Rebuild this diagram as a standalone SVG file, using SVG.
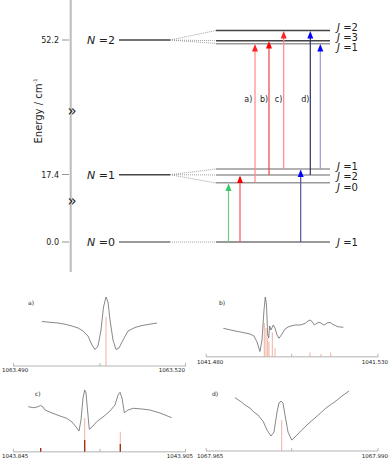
<svg xmlns="http://www.w3.org/2000/svg" width="390" height="459" viewBox="0 0 390 459">
<style>
text{font-family:"DejaVu Sans",sans-serif;fill:#222}
.tick{font-size:8px}
.lab{font-size:11px}
.jl{font-size:10px}
.it{font-style:italic}
.lvD{stroke:#444;stroke-width:1.5;fill:none}
.lvG{stroke:#999;stroke-width:1.5;fill:none}
.dot{stroke:#888;stroke-width:0.8;stroke-dasharray:1,1;fill:none}
.shaft{stroke-width:1.2;fill:none}
.spec{stroke:#555;stroke-width:0.7;fill:none;stroke-linejoin:round}
.ax{stroke:#ccc;stroke-width:1.5}
.axt{stroke:#888;stroke-width:0.6}
.stk{stroke:#e8a088;stroke-width:0.8}
.stkD{stroke:#a83010;stroke-width:1.4}
.num{font-size:5.5px}
.pl{font-size:6px}
.al{font-size:8px}
.brk{font-size:15px}
</style>

<g id="energy-axis">
  <line x1="70.7" y1="0" x2="70.7" y2="272" stroke="#bbb" stroke-width="2"/>
  <line x1="62" y1="40" x2="69" y2="40" stroke="#666" stroke-width="0.7"/>
  <line x1="62" y1="174.5" x2="69" y2="174.5" stroke="#666" stroke-width="0.7"/>
  <line x1="62" y1="242" x2="69" y2="242" stroke="#666" stroke-width="0.7"/>
  <text class="tick" x="59" y="43" text-anchor="end">52.2</text>
  <text class="tick" x="59" y="177.5" text-anchor="end">17.4</text>
  <text class="tick" x="59" y="245" text-anchor="end">0.0</text>
  <text class="brk" x="72" y="115.5" text-anchor="middle">»</text>
  <text class="brk" x="72" y="205.5" text-anchor="middle">»</text>
  <text transform="translate(42,111) rotate(-90)" font-size="10" text-anchor="middle">Energy / cm<tspan font-size="5" dy="-5">-1</tspan></text>
</g>

<g id="level-N2">
  <text class="lab" x="87" y="44"><tspan class="it">N</tspan> =2</text>
  <line class="lvD" x1="119" y1="40" x2="170" y2="40"/>
  <path class="dot" d="M170,40 L216,30.5 M170,40 L216,40.7 M170,40 L216,43.5"/>
  <line class="lvD" x1="216" y1="30.5" x2="330" y2="30.5"/>
  <line class="lvD" x1="216" y1="40.7" x2="330" y2="40.7"/>
  <line class="lvG" x1="216" y1="43.7" x2="330" y2="43.7"/>
  <text class="jl" x="337" y="30.5"><tspan class="it">J</tspan> =2</text>
  <text class="jl" x="337" y="40.5"><tspan class="it">J</tspan> =3</text>
  <text class="jl" x="337" y="50.5"><tspan class="it">J</tspan> =1</text>
</g>

<g id="level-N1">
  <text class="lab" x="87" y="178.5"><tspan class="it">N</tspan> =1</text>
  <line class="lvD" x1="119" y1="174.7" x2="170" y2="174.7"/>
  <path class="dot" d="M170,174.7 L216,169 M170,174.7 L216,175 M170,174.7 L216,183"/>
  <line class="lvG" x1="216" y1="169" x2="330" y2="169"/>
  <line class="lvG" x1="216" y1="175" x2="330" y2="175"/>
  <line class="lvG" x1="216" y1="182.8" x2="330" y2="182.8"/>
  <text class="jl" x="337" y="169.5"><tspan class="it">J</tspan> =1</text>
  <text class="jl" x="337" y="179.5"><tspan class="it">J</tspan> =2</text>
  <text class="jl" x="337" y="190.5"><tspan class="it">J</tspan> =0</text>
</g>

<g id="level-N0">
  <text class="lab" x="87" y="246"><tspan class="it">N</tspan> =0</text>
  <line x1="119" y1="242" x2="170" y2="242" stroke="#777" stroke-width="1.5"/>
  <path class="dot" d="M170,242 L216,242"/>
  <line x1="216" y1="242" x2="330" y2="242" stroke="#777" stroke-width="1.5"/>
  <text class="jl" x="337" y="245.5"><tspan class="it">J</tspan> =1</text>
</g>

<g id="connectors">
  <line class="shaft" x1="228.5" y1="242" x2="228.5" y2="189" stroke="#6c8"/>
  <polygon points="228.5,183.5 225.5,191 231.5,191" fill="#3c6"/>
  <line class="shaft" x1="240" y1="242" x2="240" y2="181" stroke="#f55"/>
  <polygon points="240,175.5 237,183 243,183" fill="#f00"/>
  <line class="shaft" x1="255" y1="182.8" x2="255" y2="50" stroke="#f88"/>
  <polygon points="255,44 252,51.5 258,51.5" fill="#f22"/>
  <line class="shaft" x1="269" y1="175" x2="269" y2="47" stroke="#e44"/>
  <polygon points="269,41 266,48.5 272,48.5" fill="#f00"/>
  <line class="shaft" x1="283.7" y1="169" x2="283.7" y2="37" stroke="#f88"/>
  <polygon points="283.7,31 280.7,38.5 286.7,38.5" fill="#f22"/>
  <line class="shaft" x1="300.7" y1="242" x2="300.7" y2="175" stroke="#559"/>
  <polygon points="300.7,169.5 297.7,177 303.7,177" fill="#00f"/>
  <line class="shaft" x1="310.3" y1="175" x2="310.3" y2="37" stroke="#336"/>
  <polygon points="310.3,31 307.3,38.5 313.3,38.5" fill="#00f"/>
  <line class="shaft" x1="320.3" y1="169" x2="320.3" y2="50" stroke="#99c"/>
  <polygon points="320.3,44 317.3,51.5 323.3,51.5" fill="#00f"/>
  <text class="al" x="248.3" y="102" text-anchor="middle">a)</text>
  <text class="al" x="264" y="102" text-anchor="middle">b)</text>
  <text class="al" x="278.5" y="102" text-anchor="middle">c)</text>
  <text class="al" x="305.3" y="102" text-anchor="middle">d)</text>
</g>

<g id="spectrum-a">
  <text class="pl" x="28" y="305">a)</text>
  <line class="ax" x1="13.3" y1="366" x2="185.7" y2="366"/>
  <path class="axt" d="M13.5,363 V366 M185.5,363 V366 M100,363 V366"/>
  <line class="stk" x1="106" y1="316.7" x2="106" y2="366"/>
  <polyline class="spec" points="42,321.5 50,322.3 58,323 65,324.2 72,326 78,328 83,331 88,336 92,345 95,349.5 98,346 101,330 103.5,307 106,297 108,302 110,320 113,340 116,349.5 119,348 123,340 128,331 135,327.5 140,326 145,325 151,324 157,323"/>
  <text class="num" x="2" y="372">1063.490</text>
  <text class="num" x="185" y="372" text-anchor="end">1063.520</text>
</g>

<g id="spectrum-b">
  <text class="pl" x="219" y="305">b)</text>
  <line class="ax" x1="206" y1="356.7" x2="378.3" y2="356.7"/>
  <path class="axt" d="M206.2,353.7 V356.7 M378,353.7 V356.7 M291.7,353.7 V356.7"/>
  <path class="stk" d="M264.3,323.3 V356.7 M266,328 V356.7 M267.7,338 V356.7 M269,341.7 V356.7 M272.3,332.7 V356.7 M275,348.3 V356.7 M310,352.5 V356.7 M321,354 V356.7 M330.7,352.5 V356.7"/>
  <polyline class="spec" points="223.3,328.3 233,330.5 243,332.5 250,334 254,336 257,342 260,351.5 262,340 264,310 265.3,297 266.5,305 267.7,335 268.7,338 269.7,326 271,330 273.3,325 275,328 277,335 279,338.3 282,334 285,329 289,326.5 295,325 300,325 305,323.5 308,321 310,320 312,321.5 314.3,325 317,323 320,322.3 322,324 324.3,325 327,323 330,322.3 333,324.5 338,326.7 343.3,327.3"/>
  <text class="num" x="197" y="364">1041.480</text>
  <text class="num" x="388" y="364" text-anchor="end">1041.530</text>
</g>

<g id="spectrum-c">
  <text class="pl" x="35" y="396">c)</text>
  <line class="ax" x1="13.3" y1="451.7" x2="185.7" y2="451.7"/>
  <path class="axt" d="M13.5,448.7 V451.7 M185.5,448.7 V451.7 M100,448.7 V451.7"/>
  <path class="stk" d="M84.7,418 V441 M120.3,431.7 V445"/>
  <path class="stkD" d="M84.7,440 V451.7 M120.3,444 V451.7 M40.7,448 V451.7"/>
  <polyline class="spec" points="28.3,406.7 33.3,407.7 37,407 40.7,405.5 43,407 45,410 52,413 60,416 66.7,418.3 72,422 76,427 79,431 81,420 83,398 84.7,390 86,393 87.5,410 89.3,429.3 92,427 96.7,421.7 103,417 110,411 115,405 118,395 120,392.3 122,398 124.3,412.7 128,410 133.3,408.3 142,409 150,410 160,413 171.7,417.7"/>
  <text class="num" x="2" y="458">1043.845</text>
  <text class="num" x="193" y="458" text-anchor="end">1043.905</text>
</g>

<g id="spectrum-d">
  <text class="pl" x="212" y="396">d)</text>
  <line class="ax" x1="206" y1="451" x2="378.3" y2="451"/>
  <path class="axt" d="M206.2,448 V451 M378,448 V451 M291.7,448 V451"/>
  <line class="stk" x1="281.7" y1="420" x2="281.7" y2="451"/>
  <polyline class="spec" points="235,397.7 240,401 245,405 250,408 253.3,411.7 258,415 263.3,421.7 267,430 271,436 274,432 277,412 279,403 281,401 283,403 285,415 288,432 291.7,440 295,437 301.7,430 308,424 318.3,415 326,408 335,401.7 342,396 349,391"/>
  <text class="num" x="197" y="458">1067.965</text>
  <text class="num" x="388" y="458" text-anchor="end">1067.990</text>
</g>
</svg>
